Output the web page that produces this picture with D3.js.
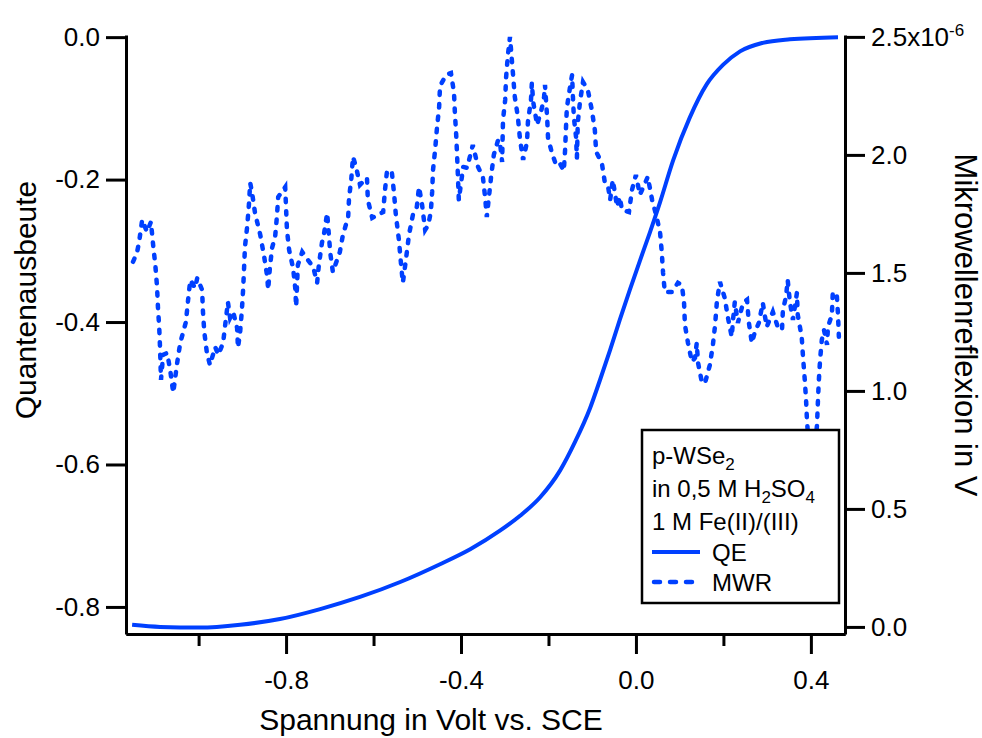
<!DOCTYPE html>
<html lang="de">
<head>
  <meta charset="utf-8">
  <script src="https://d3js.org/d3.v7.min.js"></script>
  <style>
    body { margin: 0; background: #fff; }
    svg { font-family: "Liberation Sans", Arial, sans-serif; }
    .axis path, .axis line { stroke: #000; stroke-width: 3; }
    .axis text { font-size: 26px; fill: #000; font-family: "Liberation Sans", Arial, sans-serif; }
  </style>
</head>
<body>
<svg id="chart" width="982" height="738"></svg>
<script>
  // QE curve (left axis)
  const qeVoltage = [-1.152, -1.088, -0.997, -0.905, -0.814, -0.722, -0.631, -0.539, -0.448, -0.379,
    -0.311, -0.265, -0.219, -0.174, -0.139, -0.105, -0.082, -0.059, -0.037, -0.014,
    0.009, 0.032, 0.055, 0.085, 0.123, 0.162, 0.199, 0.238, 0.290, 0.352, 0.462];
  const qeValues = [-0.825, -0.828, -0.829, -0.825, -0.817, -0.803, -0.786, -0.765, -0.740, -0.719,
    -0.693, -0.672, -0.646, -0.609, -0.568, -0.521, -0.481, -0.439, -0.397, -0.355,
    -0.314, -0.274, -0.232, -0.173, -0.113, -0.066, -0.039, -0.020, -0.008, -0.003, 0.000];

  // MWR curve (right axis, in 1e-6 V)
  const mwrVoltage = [-1.150, -1.141, -1.136, -1.129, -1.118, -1.109, -1.104, -1.099, -1.095, -1.093,
    -1.090, -1.088, -1.086, -1.081, -1.072, -1.065, -1.058, -1.049, -1.042, -1.029,
    -1.024, -1.019, -1.008, -1.003, -0.992, -0.990, -0.987, -0.981, -0.974, -0.962,
    -0.955, -0.944, -0.933, -0.928, -0.921, -0.912, -0.910, -0.905, -0.901, -0.898,
    -0.896, -0.894, -0.889, -0.885, -0.882, -0.878, -0.871, -0.859, -0.850, -0.843,
    -0.841, -0.837, -0.832, -0.825, -0.821, -0.818, -0.802, -0.800, -0.798, -0.793,
    -0.784, -0.779, -0.777, -0.773, -0.763, -0.750, -0.738, -0.729, -0.725, -0.718,
    -0.713, -0.706, -0.699, -0.693, -0.677, -0.670, -0.658, -0.656, -0.651, -0.647,
    -0.640, -0.631, -0.615, -0.613, -0.603, -0.578, -0.574, -0.569, -0.558, -0.553,
    -0.549, -0.542, -0.537, -0.533, -0.526, -0.519, -0.510, -0.501, -0.496, -0.489,
    -0.482, -0.475, -0.469, -0.466, -0.464, -0.459, -0.455, -0.450, -0.448, -0.434,
    -0.423, -0.416, -0.414, -0.411, -0.409, -0.407, -0.405, -0.395, -0.386, -0.373,
    -0.361, -0.350, -0.345, -0.341, -0.331, -0.325, -0.315, -0.311, -0.306, -0.304,
    -0.299, -0.297, -0.293, -0.288, -0.281, -0.277, -0.270, -0.265, -0.258, -0.249,
    -0.247, -0.240, -0.238, -0.235, -0.226, -0.215, -0.210, -0.208, -0.203, -0.201,
    -0.192, -0.185, -0.178, -0.165, -0.162, -0.160, -0.158, -0.151, -0.146, -0.144,
    -0.142, -0.137, -0.135, -0.133, -0.128, -0.121, -0.110, -0.101, -0.094, -0.091,
    -0.078, -0.071, -0.064, -0.059, -0.053, -0.043, -0.037, -0.032, -0.016, -0.009,
    0.000, 0.009, 0.021, 0.027, 0.037, 0.046, 0.055, 0.059, 0.062, 0.066,
    0.082, 0.096, 0.105, 0.110, 0.112, 0.119, 0.128, 0.135, 0.139, 0.142,
    0.151, 0.158, 0.169, 0.176, 0.181, 0.185, 0.192, 0.203, 0.210, 0.219,
    0.222, 0.226, 0.233, 0.245, 0.254, 0.258, 0.265, 0.272, 0.281, 0.290,
    0.299, 0.313, 0.325, 0.334, 0.336, 0.343, 0.347, 0.352, 0.359, 0.368,
    0.370, 0.379, 0.382, 0.386, 0.389, 0.391, 0.395, 0.402, 0.409, 0.414,
    0.416, 0.418, 0.421, 0.425, 0.430, 0.437, 0.439, 0.448, 0.450, 0.459,
    0.462, 0.464];
  const mwrValues = [1.547, 1.585, 1.631, 1.725, 1.674, 1.716, 1.619, 1.534, 1.441, 1.356,
    1.267, 1.174, 1.047, 1.153, 1.161, 1.089, 0.992, 1.119, 1.203, 1.292,
    1.386, 1.470, 1.436, 1.479, 1.428, 1.335, 1.250, 1.161, 1.110, 1.186,
    1.153, 1.203, 1.377, 1.309, 1.335, 1.267, 1.182, 1.250, 1.343, 1.436,
    1.521, 1.610, 1.695, 1.788, 1.881, 1.843, 1.754, 1.661, 1.568, 1.483,
    1.428, 1.521, 1.606, 1.653, 1.737, 1.822, 1.864, 1.775, 1.682, 1.597,
    1.521, 1.436, 1.356, 1.534, 1.589, 1.555, 1.525, 1.458, 1.534, 1.627,
    1.669, 1.754, 1.585, 1.504, 1.589, 1.661, 1.737, 1.818, 1.894, 1.992,
    1.949, 1.873, 1.903, 1.809, 1.733, 1.758, 1.847, 1.936, 1.924, 1.835,
    1.746, 1.640, 1.534, 1.458, 1.555, 1.661, 1.746, 1.780, 1.864, 1.788,
    1.682, 1.703, 1.758, 1.843, 1.936, 2.025, 2.114, 2.203, 2.292, 2.339,
    2.347, 2.263, 2.178, 2.085, 2.000, 1.907, 1.809, 1.949, 1.945, 2.042,
    1.949, 1.907, 1.822, 1.737, 1.911, 2.000, 2.064, 2.055, 1.970, 2.148,
    2.233, 2.326, 2.419, 2.500, 2.339, 2.246, 2.161, 2.064, 1.979, 2.055,
    2.140, 2.233, 2.305, 2.225, 2.127, 2.199, 2.246, 2.297, 2.157, 2.072,
    2.008, 1.970, 1.979, 1.932, 2.021, 2.114, 2.199, 2.284, 2.339, 2.242,
    2.161, 2.076, 1.987, 2.136, 2.225, 2.309, 2.275, 2.191, 2.106, 2.013,
    1.966, 1.881, 1.869, 1.809, 1.894, 1.780, 1.822, 1.767, 1.758, 1.852,
    1.915, 1.831, 1.881, 1.907, 1.809, 1.746, 1.674, 1.589, 1.500, 1.419,
    1.419, 1.458, 1.449, 1.373, 1.280, 1.203, 1.123, 1.140, 1.203, 1.119,
    1.034, 1.034, 1.110, 1.195, 1.280, 1.377, 1.462, 1.394, 1.314, 1.229,
    1.301, 1.377, 1.288, 1.373, 1.386, 1.292, 1.203, 1.250, 1.288, 1.373,
    1.271, 1.335, 1.267, 1.258, 1.343, 1.398, 1.470, 1.377, 1.301, 1.415,
    1.322, 1.229, 1.144, 1.047, 0.962, 0.877, 0.771, 0.686, 0.750, 0.856,
    0.953, 1.038, 1.131, 1.216, 1.258, 1.195, 1.271, 1.322, 1.415, 1.415,
    1.322, 1.229];

  // ticks
  const xMajorTicks = [-0.8, -0.4, 0.0, 0.4];
  const xMinorTicks = [-1.0, -0.6, -0.2, 0.2];
  const qeTicks = [0.0, -0.2, -0.4, -0.6, -0.8];
  const mwrTicks = [0.0, 0.5, 1.0, 1.5, 2.0, 2.5];

  const legendLines = [
    [["p-WSe", false], ["2", true]],
    [["in 0,5 M H", false], ["2", true], ["SO", false], ["4", true]],
    [["1 M Fe(II)/(III)", false]]
  ];

  const blue = "#0040ff";
  const svg = d3.select("#chart");

  const x = d3.scaleLinear().domain([-1.166, 0.478]).range([126, 845]);
  const yL = d3.scaleLinear().domain([-0.838, 0.003]).range([634, 35]);
  const yR = d3.scaleLinear().domain([-0.03, 2.508]).range([634, 35]);

  const fmt = d => d.toFixed(1);

  // bottom axis: minor ticks then major ticks
  svg.append("g").attr("class", "axis")
    .attr("transform", "translate(0,634)")
    .call(d3.axisBottom(x).tickValues(xMinorTicks).tickSize(12).tickSizeOuter(0).tickFormat(""));
  svg.append("g").attr("class", "axis")
    .attr("transform", "translate(0,634)")
    .call(d3.axisBottom(x).tickValues(xMajorTicks).tickSize(20).tickSizeOuter(0).tickPadding(17).tickFormat(fmt));

  // left axis
  svg.append("g").attr("class", "axis")
    .attr("transform", "translate(126,0)")
    .call(d3.axisLeft(yL).tickValues(qeTicks).tickSize(20).tickSizeOuter(0).tickPadding(6).tickFormat(fmt));

  // right axis
  const rAxis = svg.append("g").attr("class", "axis")
    .attr("transform", "translate(845,0)")
    .call(d3.axisRight(yR).tickValues(mwrTicks).tickSize(20).tickSizeOuter(0).tickPadding(6).tickFormat(fmt));
  rAxis.selectAll(".tick text").filter(d => d === 2.5)
    .text("2.5x10")
    .append("tspan").attr("dy", "-0.55em").attr("font-size", "17px").text("-6");

  // curves
  const qeData = qeVoltage.map((v, i) => [v, qeValues[i]]);
  const mwrData = mwrVoltage.map((v, i) => [v, mwrValues[i]]);

  svg.append("path")
    .datum(mwrData)
    .attr("fill", "none")
    .attr("stroke", blue)
    .attr("stroke-width", 4.5)
    .attr("stroke-linecap", "round")
    .attr("stroke-dasharray", "3.5,9")
    .attr("d", d3.line().x(d => x(d[0])).y(d => yR(d[1])));

  svg.append("path")
    .datum(qeData)
    .attr("fill", "none")
    .attr("stroke", blue)
    .attr("stroke-width", 4)
    .attr("d", d3.line().curve(d3.curveMonotoneX).x(d => x(d[0])).y(d => yL(d[1])));

  // axis titles
  svg.append("text")
    .attr("transform", "translate(36,300) rotate(-90)")
    .attr("text-anchor", "middle")
    .attr("font-size", "30px")
    .text("Quantenausbeute");

  svg.append("text")
    .attr("x", 431).attr("y", 730)
    .attr("text-anchor", "middle")
    .attr("font-size", "30px")
    .text("Spannung in Volt vs. SCE");

  svg.append("text")
    .attr("transform", "translate(955,325) rotate(90)")
    .attr("text-anchor", "middle")
    .attr("font-size", "31px")
    .text("Mikrowellenreflexion in V");

  // legend
  const lg = svg.append("g").attr("transform", "translate(642,430)");
  lg.append("rect")
    .attr("width", 197).attr("height", 173)
    .attr("fill", "#fff").attr("stroke", "#000").attr("stroke-width", 2.5);

  legendLines.forEach((parts, i) => {
    const t = lg.append("text")
      .attr("x", 10).attr("y", 34 + i * 33)
      .attr("font-size", "24px");
    parts.forEach(([s, sub]) => {
      if (sub) {
        t.append("tspan").attr("dy", 6).attr("font-size", "17px").text(s);
      } else {
        const ts = t.append("tspan").text(s);
        if (t.selectAll("tspan").size() > 1) ts.attr("dy", -6);
      }
    });
  });

  lg.append("line")
    .attr("x1", 10).attr("x2", 58).attr("y1", 122).attr("y2", 122)
    .attr("stroke", blue).attr("stroke-width", 4);
  lg.append("text").attr("x", 70).attr("y", 131).attr("font-size", "24px").text("QE");

  lg.append("line")
    .attr("x1", 12).attr("x2", 58).attr("y1", 152).attr("y2", 152)
    .attr("stroke", blue).attr("stroke-width", 4.5)
    .attr("stroke-linecap", "round").attr("stroke-dasharray", "6,10");
  lg.append("text").attr("x", 70).attr("y", 161).attr("font-size", "24px").text("MWR");
</script>
</body>
</html>
